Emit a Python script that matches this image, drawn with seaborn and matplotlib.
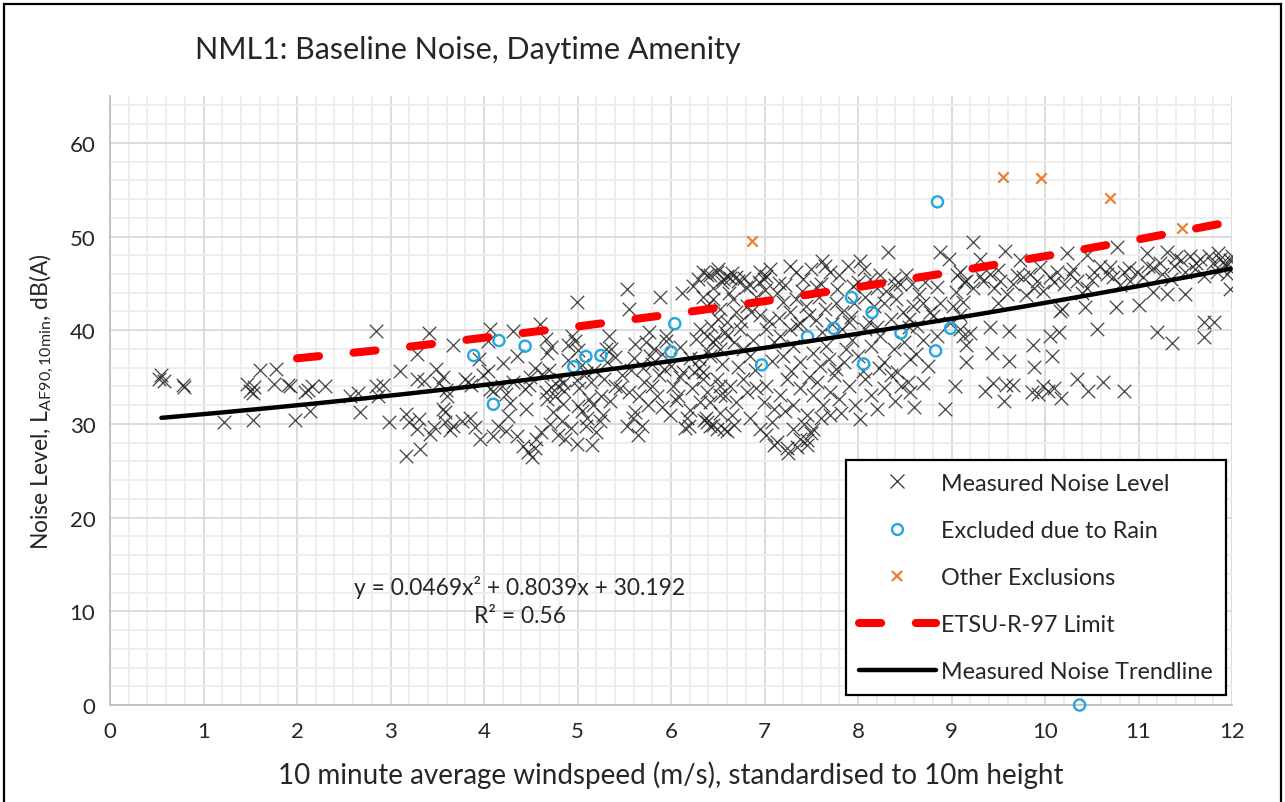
import numpy as np
import pandas as pd
import matplotlib
matplotlib.use("Agg")
import matplotlib.pyplot as plt
from matplotlib.lines import Line2D
from matplotlib.patches import Rectangle
from matplotlib.ticker import MultipleLocator
import seaborn as sns

# ---------------------------------------------------------------- data
# Measured 10-minute noise levels (windspeed m/s, LA90 dB)
wind_measured = [
    0.55, 0.58, 0.52, 0.78, 0.79, 1.22, 1.47, 1.50, 1.53, 1.54, 1.53, 1.60, 1.78, 1.75, 1.90, 1.93, 1.98,
    2.09, 2.12, 2.14, 2.16, 2.30, 2.57, 2.65, 2.67, 2.85, 2.84, 2.92, 2.87, 2.98, 3.10, 3.28, 3.28, 3.41,
    3.36, 3.49, 3.52, 3.59, 3.17, 3.20, 3.28, 3.31, 3.17, 3.32, 3.42, 3.46, 3.56, 3.58,
    3.67, 3.56, 3.60, 3.58, 3.67, 3.64, 3.83, 3.80, 3.86, 3.76, 3.85, 3.90, 3.96, 4.04, 4.06, 4.04, 3.99,
    4.06, 4.10, 4.19, 4.23, 4.10, 4.15, 4.24, 4.26, 4.31, 4.31, 4.35, 4.44, 4.49, 4.48, 4.42, 4.47, 4.51,
    4.55, 4.56, 4.61, 4.60, 4.66, 4.67, 4.72, 4.67, 4.66, 4.72, 4.76, 4.79, 4.81, 4.84, 4.86, 4.74, 4.71,
    4.83, 4.79, 4.87, 4.93, 4.90, 4.94, 4.99, 4.97, 5.01, 4.99, 5.02, 5.00, 5.05, 4.99, 5.09, 5.09, 5.14,
    5.12, 5.17, 5.15, 5.20, 5.24, 5.27, 5.25, 5.28, 5.30, 5.34, 5.36, 5.40, 5.40, 5.45, 5.53, 5.55, 5.57,
    5.59, 5.53, 5.62, 5.66, 5.71, 5.69, 5.75, 5.73, 5.76, 5.82, 5.80, 5.85, 5.87, 5.88, 5.95, 5.99, 6.02,
    6.07, 6.12, 6.13, 6.17, 6.19, 6.22, 6.24, 6.27, 6.29, 6.30, 6.34, 6.37, 6.39, 6.42, 6.43, 6.47, 6.50,
    6.52, 6.55, 6.57, 6.58, 6.58,
    5.60, 5.80, 5.90, 6.00, 6.10, 6.20, 6.30, 6.40, 6.10, 6.25, 5.95, 5.70,
    4.20, 4.35, 4.55, 4.62, 4.90, 5.05, 5.18, 5.32, 5.48, 5.62, 5.78, 5.92, 4.45, 4.85, 5.35, 5.55, 5.90,
    6.05, 6.20, 6.35, 6.45, 3.95, 4.28, 4.70, 5.10, 5.65, 6.15,
    6.34, 6.42, 6.49, 6.56, 6.63, 6.70, 6.78, 6.95, 6.99, 6.94, 7.02, 7.06, 7.27, 7.34, 7.41, 7.50, 7.61,
    7.65, 7.70, 7.80, 7.89, 8.02, 8.06, 8.13, 8.23, 8.32, 8.30, 8.39, 8.51, 8.58, 8.72, 8.88, 8.97, 9.06,
    9.13, 6.60, 6.65, 6.72, 6.85, 7.15, 7.55, 7.95, 8.45,
    6.45, 6.62, 6.80, 7.00, 7.22, 7.40, 7.60, 7.78, 8.00, 8.20, 8.40, 8.65, 8.85, 9.05,
    6.34, 6.38, 6.45, 6.52, 6.66, 6.70, 6.60, 6.81, 6.86, 6.91, 7.13, 7.20, 7.27, 7.34, 7.44, 7.48, 7.58,
    7.65, 7.76, 7.83, 7.96, 8.07, 8.17, 8.28, 8.41, 8.48, 8.59, 8.70, 8.77, 8.88, 9.02,
    6.50, 6.75, 6.95, 7.15, 7.38, 7.55, 7.72, 7.92, 8.12, 8.35, 8.55, 8.80,
    6.31, 6.38, 6.45, 6.52, 6.42, 6.60, 6.67, 6.74, 6.77, 6.84, 6.88, 7.02, 7.10, 7.17, 7.20, 7.27, 7.31,
    7.38, 7.52, 7.59, 7.66, 7.69, 7.76, 7.83, 7.87, 7.94, 8.00, 8.08, 8.14, 8.24, 8.28, 8.39, 8.49, 8.56,
    8.63, 8.70, 8.84, 8.98, 9.09, 7.05, 7.35, 7.62, 7.90, 8.20, 8.55,
    6.55, 6.72, 6.90, 7.08, 7.28, 7.48, 7.85, 8.05, 8.22, 8.42, 8.62, 8.75,
    6.34, 6.38, 6.42, 6.49, 6.52, 6.63, 6.70, 6.77, 6.81, 6.91, 6.99, 7.02, 7.10, 7.17, 7.24, 7.31, 7.38,
    7.45, 7.52, 7.56, 7.63, 7.70, 7.74, 7.80, 7.90, 7.97, 8.08, 8.14, 8.28, 8.35, 8.46, 8.53, 8.56, 9.04,
    8.93, 6.31,
    6.65, 6.85, 7.08, 7.22, 7.42, 7.60, 7.82, 8.02, 8.20, 8.40, 8.60, 8.70,
    6.38, 6.49, 6.60, 6.67, 6.52, 6.95, 7.02, 7.13, 7.30, 7.38, 7.45, 7.52, 7.24, 7.70, 7.10, 7.25, 7.35,
    7.45, 7.50,
    9.23, 9.57, 9.30, 9.09, 9.16, 9.23, 9.34, 9.41, 9.45, 9.52, 9.59, 9.66, 9.73, 9.77, 9.84, 9.88, 9.91,
    9.98, 10.05, 10.13, 10.20, 10.23, 10.27, 10.34, 10.45, 10.45, 10.52, 10.59, 10.66, 10.77, 10.73,
    10.84, 10.91, 10.98, 11.05, 11.09, 11.16, 11.23, 11.30, 11.38, 11.45, 11.55, 11.62, 11.66, 11.80,
    11.87, 11.94, 11.98, 12.00, 11.84, 11.98,
    9.30, 9.50, 9.70, 9.95, 10.10, 10.30, 10.50, 10.70, 10.90, 11.10, 11.25, 11.40, 11.60, 11.75, 11.90,
    11.95, 11.70, 11.50, 10.80, 10.40, 9.80, 9.50, 11.15, 11.35, 12.00, 11.85,
    9.12, 9.09, 9.12, 9.20, 9.16, 9.16, 9.41, 9.62, 9.43, 9.62, 9.87, 9.88, 10.08, 10.05, 10.15, 10.18,
    10.16, 10.43, 10.56, 10.76, 11.01, 11.31, 11.50, 11.20, 11.36, 11.70, 11.81, 11.70,
    9.36, 9.44, 9.56, 9.58, 9.66, 9.86, 9.93, 9.98, 10.03, 10.17, 10.10, 10.34, 10.46, 10.62, 10.85,
]
level_measured = [
    35.2, 34.6, 34.8, 34.2, 33.9, 30.2, 34.3, 33.5, 33.3, 33.9, 30.4, 35.8, 35.9, 34.3, 34.2, 34.0, 30.4,
    33.4, 33.6, 31.4, 34.0, 34.1, 33.0, 33.3, 31.3, 39.9, 34.1, 34.2, 33.0, 30.2, 35.7, 34.8, 37.5, 39.7,
    34.6, 35.9, 34.4, 33.6, 31.1, 30.2, 29.5, 30.5, 26.6, 27.3, 28.9, 29.7, 31.6, 30.2,
    38.4, 35.0, 33.0, 31.3, 29.8, 29.4, 34.5, 34.8, 34.2, 30.3, 30.6, 29.7, 28.4, 38.8, 40.1, 35.6, 35.2,
    33.7, 33.5, 34.1, 33.2, 28.7, 29.8, 29.2, 30.8, 39.9, 34.5, 28.7, 33.7, 35.0, 34.2, 27.6, 27.0, 26.5,
    27.4, 28.4, 29.1, 40.7, 39.1, 37.6, 38.2, 32.7, 33.4, 33.9, 33.0, 34.1, 34.8, 34.4, 33.5, 31.3, 30.0,
    30.3, 28.8, 28.4, 29.6, 38.4, 39.4, 43.0, 38.9, 37.9, 34.7, 33.8, 31.9, 31.4, 27.9, 29.8, 35.4, 34.5,
    32.7, 32.0, 27.7, 29.1, 30.3, 31.0, 33.0, 34.8, 38.0, 39.4, 38.0, 37.1, 34.1, 33.8, 44.4, 42.3, 35.8,
    30.6, 29.8, 31.3, 33.0, 34.5, 29.8, 32.0, 38.7, 39.8, 38.0, 34.1, 33.0, 35.2, 43.6, 39.4, 30.9, 34.1,
    33.0, 44.0, 35.5, 30.6, 29.8, 33.8, 44.7, 39.1, 45.5, 36.9, 34.8, 30.6, 45.9, 29.8, 40.5, 39.1, 46.5,
    34.1, 45.2, 29.5, 39.8, 33.0,
    37.0, 36.4, 37.5, 36.2, 38.2, 37.0, 36.0, 37.8, 35.0, 35.5, 38.8, 36.0,
    36.5, 37.2, 36.0, 35.3, 36.8, 36.3, 35.8, 36.6, 35.2, 38.5, 37.3, 35.9, 31.6, 32.1, 32.5, 33.4, 31.8,
    32.6, 31.5, 30.4, 29.9, 36.9, 32.2, 35.8, 30.6, 28.8, 29.6,
    46.2, 45.9, 46.2, 45.5, 45.6, 45.7, 45.6, 46.2, 45.5, 45.2, 45.8, 46.5, 46.9, 46.2, 45.5, 46.5, 47.4,
    46.9, 46.2, 45.9, 46.9, 47.4, 46.5, 45.5, 45.9, 48.3, 44.2, 45.6, 45.9, 44.9, 45.2, 48.3, 47.6, 45.9,
    45.2, 45.8, 46.1, 45.3, 44.8, 45.0, 44.6, 44.7, 44.9,
    44.5, 44.0, 44.6, 44.3, 44.8, 44.2, 44.9, 44.4, 45.1, 44.5, 44.8, 43.9, 44.6, 44.1,
    43.6, 42.6, 43.3, 42.3, 43.3, 41.9, 40.9, 42.6, 41.9, 43.6, 44.0, 43.0, 41.9, 43.3, 42.6, 41.6, 43.6,
    42.3, 42.9, 41.9, 42.9, 43.6, 42.6, 42.9, 43.3, 41.9, 42.6, 42.9, 41.9, 42.9, 42.6,
    41.2, 41.0, 41.6, 41.3, 40.8, 41.1, 40.7, 41.4, 40.9, 41.2, 40.3, 41.5,
    40.1, 39.4, 38.7, 38.0, 37.3, 39.4, 38.7, 40.1, 38.0, 37.3, 39.0, 40.1, 38.7, 39.4, 37.3, 40.1, 38.3,
    36.6, 37.6, 36.2, 38.3, 36.9, 35.9, 40.1, 38.0, 39.0, 37.3, 40.1, 38.3, 39.4, 36.6, 38.0, 38.7, 36.9,
    40.4, 39.0, 39.4, 40.8, 40.1, 41.0, 40.6, 39.8, 40.9, 40.3, 41.2,
    36.4, 36.1, 35.8, 36.7, 35.6, 35.0, 36.6, 35.7, 36.0, 35.5, 37.5, 36.2,
    35.5, 33.4, 32.3, 34.8, 33.1, 34.1, 32.3, 34.8, 33.4, 33.8, 32.3, 34.1, 31.6, 33.1, 34.8, 32.0, 33.8,
    31.0, 33.1, 34.5, 32.0, 33.4, 35.2, 32.7, 34.1, 32.0, 34.8, 33.1, 33.8, 35.2, 34.1, 34.5, 33.4, 34.0,
    31.6, 32.3,
    31.0, 30.6, 30.2, 31.4, 30.0, 30.6, 31.2, 30.5, 31.6, 32.5, 31.8, 34.4,
    30.2, 29.5, 29.2, 29.9, 31.2, 29.5, 28.8, 28.1, 29.5, 28.4, 27.8, 29.5, 27.4, 30.9, 27.7, 26.9, 27.5,
    28.3, 29.0,
    49.4, 48.5, 47.6, 46.2, 45.3, 44.5, 45.3, 46.0, 44.5, 45.3, 43.9, 44.9, 47.5, 45.7, 46.0, 44.5, 45.3,
    44.2, 45.7, 46.2, 44.9, 48.2, 46.0, 45.3, 44.5, 48.0, 46.2, 46.9, 46.0, 48.9, 45.7,
    46.2, 45.3, 46.2, 45.7, 48.2, 46.6, 47.2, 48.3, 46.9, 47.5, 47.9, 47.2, 47.6, 47.2,
    47.6, 46.9, 47.5, 46.6, 46.2, 44.4,
    45.8, 46.4, 45.9, 46.7, 45.1, 46.5, 45.4, 46.8, 46.6, 46.9, 46.0, 47.8, 46.5, 47.9, 47.3,
    46.0, 45.8, 46.2, 44.8, 44.0, 43.8, 42.9, 44.1, 45.5, 47.9, 48.2,
    43.0, 41.6, 39.4, 39.7, 38.4, 36.6, 40.3, 39.9, 37.6, 36.7, 38.4, 36.1, 37.3, 39.4, 39.8, 42.3,
    42.0, 42.5, 40.1, 42.5, 42.7, 43.9, 43.9, 39.8, 38.6, 40.9, 40.9, 39.3,
    33.5, 34.4, 32.5, 34.2, 34.2, 33.4, 33.2, 34.0, 33.5, 32.8, 33.8, 34.8, 33.5, 34.5, 33.5,
]

# Periods excluded because of rainfall
wind_rain = [3.89, 4.16, 4.10, 4.44, 4.96, 5.09, 5.25, 6.04, 6.00, 6.97, 7.46, 7.74, 7.93, 8.06,
             8.15, 8.46, 8.83, 8.85, 8.99, 10.37]
level_rain = [37.3, 38.9, 32.1, 38.3, 36.1, 37.2, 37.3, 40.7, 37.7, 36.3, 39.3, 40.2, 43.5, 36.4,
              41.9, 39.7, 37.8, 53.7, 40.2, 0.0]

# Other excluded periods
wind_other = [6.87, 9.55, 9.96, 10.70, 11.47]
level_other = [49.5, 56.4, 56.3, 54.1, 50.9]

# ETSU-R-97 daytime limit at integer windspeeds
wind_limit = [2, 3, 4, 5, 6, 7, 8, 9, 10, 11, 12]
level_limit = [37.0, 38.0, 39.2, 40.4, 41.7, 43.1, 44.6, 46.2, 47.9, 49.7, 51.6]

# Second-order regression of measured noise on windspeed
trend_coeffs = [0.0469, 0.8039, 30.192]
trend_range = [0.55, 12.0]

x_ticks = list(range(0, 13))
y_ticks = list(range(0, 61, 10))

# ---------------------------------------------------------------- style
sns.set_style("white")
FONT = ["Lato", "DejaVu Sans"]
plt.rcParams["font.family"] = FONT
plt.rcParams["mathtext.fontset"] = "custom"
plt.rcParams["mathtext.rm"] = "Lato"
plt.rcParams["mathtext.it"] = "Lato:italic"

TEXT = "#262626"
GRID_MAJOR = "#D9D9D9"
GRID_MINOR = "#EDEDED"
AXIS = "#BFBFBF"
BLUE = "#23A7DF"
ORANGE = "#ED7D31"
RED = "#FF0000"

fig = plt.figure(figsize=(12.85, 8.03), dpi=100)
ax = fig.add_axes([110 / 1285, 1 - 706 / 803, 1122 / 1285, 609 / 803])

ax.set_xlim(0, 12)
ax.set_ylim(0, 65)
ax.xaxis.set_major_locator(MultipleLocator(1))
ax.xaxis.set_minor_locator(MultipleLocator(0.2))
ax.yaxis.set_major_locator(MultipleLocator(10))
ax.yaxis.set_minor_locator(MultipleLocator(2))
ax.set_xticks(x_ticks)
ax.set_yticks(y_ticks)

ax.grid(which="minor", color=GRID_MINOR, lw=1.3, zorder=0)
ax.grid(which="major", color=GRID_MAJOR, lw=1.3, zorder=0)
ax.set_axisbelow(True)

for side in ("top", "right"):
    ax.spines[side].set_visible(False)
for side in ("left", "bottom"):
    ax.spines[side].set_color(AXIS)
    ax.spines[side].set_linewidth(1.3)

ax.tick_params(which="both", direction="out", color=AXIS, width=1.1, length=4.5)
ax.tick_params(which="major", labelsize=16, labelcolor=TEXT, pad=6)
ax.tick_params(axis="x", which="major", pad=7)

# ---------------------------------------------------------------- marks
sns.scatterplot(x=wind_measured, y=level_measured, ax=ax, marker="x", s=95,
                color="#222222", linewidth=0.9, alpha=0.85, zorder=3)
sns.scatterplot(x=wind_rain, y=level_rain, ax=ax, marker="o", s=64,
                facecolor="none", edgecolor=BLUE, linewidth=1.7, zorder=4, clip_on=False)
sns.scatterplot(x=wind_other, y=level_other, ax=ax, marker="x", s=55,
                color=ORANGE, linewidth=1.6, zorder=4)

trend_x = np.linspace(trend_range[0], trend_range[1], 200)
trend_y = np.polyval(trend_coeffs, trend_x)
sns.lineplot(x=trend_x, y=trend_y, ax=ax, color="black", lw=3.2, zorder=5,
             solid_capstyle="round", estimator=None, sort=False)

sns.lineplot(x=wind_limit, y=level_limit, ax=ax, color=RED, lw=5.8, zorder=6,
             estimator=None, sort=False)
limit_line = ax.lines[-1]
limit_line.set_dashes((2.75, 4.3))
limit_line.set_dash_capstyle("round")

# ---------------------------------------------------------------- text
fig.text(195 / 1285, 1 - 50 / 803, "NML1: Baseline Noise, Daytime Amenity",
         fontsize=22.0, color=TEXT, ha="left", va="center")

ax.set_xlabel("10 minute average windspeed (m/s), standardised to 10m height",
              fontsize=20, color=TEXT, labelpad=14)
ax.set_ylabel(r"Noise Level, L$_{\mathregular{AF90,10min}}$, dB(A)",
              fontsize=16.5, color=TEXT, labelpad=10)

ax.text(4.38, 12.7, "y = 0.0469x² + 0.8039x + 30.192", fontsize=16.4,
        color=TEXT, ha="center", va="center", zorder=7)
ax.text(4.38, 9.5, "R² = 0.56", fontsize=16.4, color=TEXT,
        ha="center", va="center", zorder=7)

# ---------------------------------------------------------------- legend
handles = [
    Line2D([], [], ls="none", marker="x", ms=9.5, mew=0.9, color="#333333"),
    Line2D([], [], ls="none", marker="o", ms=7.8, mew=1.7, mfc="none", mec=BLUE),
    Line2D([], [], ls="none", marker="x", ms=7.5, mew=1.6, color=ORANGE),
    Line2D([], [], color=RED, lw=5.8, dashes=(2.75, 4.3), dash_capstyle="round"),
    Line2D([], [], color="black", lw=3.2, solid_capstyle="round"),
]
labels = ["Measured Noise Level", "Excluded due to Rain", "Other Exclusions",
          "ETSU-R-97 Limit", "Measured Noise Trendline"]
leg = ax.legend(handles, labels, loc="lower right", bbox_to_anchor=(0.9947, 0.0164),
                fontsize=16.8, frameon=True, fancybox=False, framealpha=1,
                edgecolor="black", borderpad=0.55, labelspacing=1.12,
                handlelength=3.3, handletextpad=0.25, borderaxespad=0)
leg.get_frame().set_linewidth(1.6)
for t in leg.get_texts():
    t.set_color(TEXT)
leg.set_zorder(10)

# outer frame around the chart
fig.patches.append(Rectangle((4 / 1285, -0.02), 1277 / 1285, 1.02 - 5 / 803,
                             transform=fig.transFigure, fill=False,
                             edgecolor="black", lw=1.6))

fig.savefig("out.png", dpi=100)
